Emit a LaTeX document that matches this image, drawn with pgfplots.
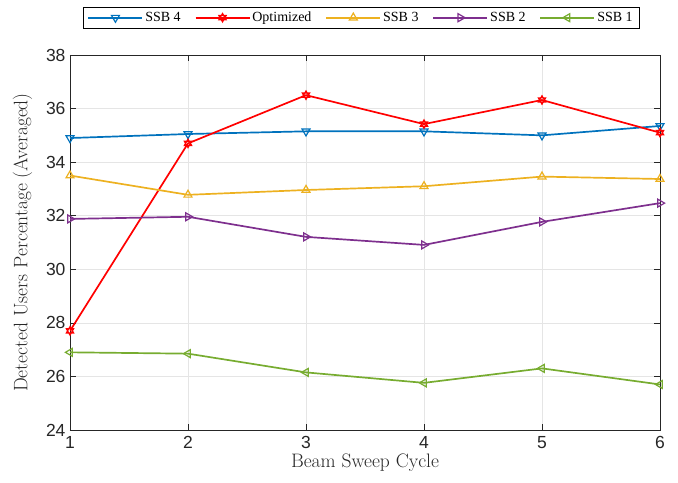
\documentclass[border=0pt]{standalone}
\usepackage{fontspec}
\setsansfont{Liberation Sans}
\newfontfamily\legfont{Liberation Serif}
\usepackage{pgfplots}
\pgfplotsset{compat=1.18}
\definecolor{c1}{rgb}{0,0.447,0.741}
\definecolor{c3}{rgb}{0.929,0.694,0.125}
\definecolor{c4}{rgb}{0.494,0.184,0.556}
\definecolor{c5}{rgb}{0.466,0.674,0.188}
\definecolor{txt}{rgb}{0.15,0.15,0.15}
\pgfdeclareplotmark{hexagram}{%
  \pgfpathmoveto{\pgfqpointpolar{90}{\pgfplotmarksize}}%
  \pgfpathlineto{\pgfqpointpolar{210}{\pgfplotmarksize}}%
  \pgfpathlineto{\pgfqpointpolar{330}{\pgfplotmarksize}}%
  \pgfpathclose
  \pgfpathmoveto{\pgfqpointpolar{270}{\pgfplotmarksize}}%
  \pgfpathlineto{\pgfqpointpolar{30}{\pgfplotmarksize}}%
  \pgfpathlineto{\pgfqpointpolar{150}{\pgfplotmarksize}}%
  \pgfpathclose
  \pgfusepathqstroke
}
\tikzset{pl/.style={line width=1.7pt, mark size=4.6bp}}
\begin{document}
\begin{tikzpicture}
\begin{axis}[
  scale only axis, width=590bp, height=375bp,
  xmin=1, xmax=6, ymin=24, ymax=38,
  xtick={1,...,6}, ytick={24,26,...,38},
  tick align=inside, tick style={txt, line width=0.5pt},
  major tick length=6bp,
  grid=major, grid style={gray!20, line width=0.5pt},
  axis line style={txt, line width=0.6pt},
  /pgf/number format/assume math mode=true,
  ticklabel style={font=\sffamily\fontsize{17.5bp}{20bp}\selectfont, text=txt},
  xticklabel style={yshift=-3bp},
  yticklabel style={xshift=-1bp},
  xlabel={Beam Sweep Cycle}, ylabel={Detected Users Percentage (Averaged)},
  label style={font=\fontsize{19.5bp}{22bp}\selectfont, text=txt},
  xlabel style={yshift=2bp}, ylabel style={yshift=7bp},
  legend columns=5,
  legend style={at={(0.4935,1.072)}, anchor=south, font=\legfont\fontsize{14bp}{16bp}\selectfont,
    inner xsep=4bp, inner ysep=2.5bp,
    /tikz/every even column/.append style={column sep=12bp}},
  legend image code/.code={\draw[mark repeat=2,mark phase=2] plot coordinates {(0bp,0bp) (27bp,0bp) (54bp,0bp)};},
]
\coordinate (sw) at (rel axis cs:0,0);
\coordinate (ne) at (rel axis cs:1,1);
\addplot[pl, c1, mark=triangle, mark options={rotate=180, line width=1.2pt}] coordinates {(1,34.9) (2,35.05) (3,35.15) (4,35.15) (5,35.0) (6,35.35)};
\addlegendentry{SSB 4}
\addplot[pl, red, mark=hexagram, mark options={line width=1.2pt}, mark size=4.2bp] coordinates {(1,27.7) (2,34.7) (3,36.5) (4,35.42) (5,36.32) (6,35.1)};
\addlegendentry{Optimized}
\addplot[pl, c3, mark=triangle, mark options={line width=1.2pt}] coordinates {(1,33.5) (2,32.78) (3,32.96) (4,33.1) (5,33.46) (6,33.37)};
\addlegendentry{SSB 3}
\addplot[pl, c4, mark=triangle, mark options={rotate=-90, line width=1.2pt}] coordinates {(1,31.88) (2,31.96) (3,31.21) (4,30.91) (5,31.77) (6,32.47)};
\addlegendentry{SSB 2}
\addplot[pl, c5, mark=triangle, mark options={rotate=90, line width=1.2pt}] coordinates {(1,26.9) (2,26.85) (3,26.15) (4,25.76) (5,26.3) (6,25.7)};
\addlegendentry{SSB 1}
\end{axis}
\pgfresetboundingbox
\path ([shift={(-70bp,-53bp)}]sw) rectangle ([shift={(18bp,55bp)}]ne);
\end{tikzpicture}
\end{document}
